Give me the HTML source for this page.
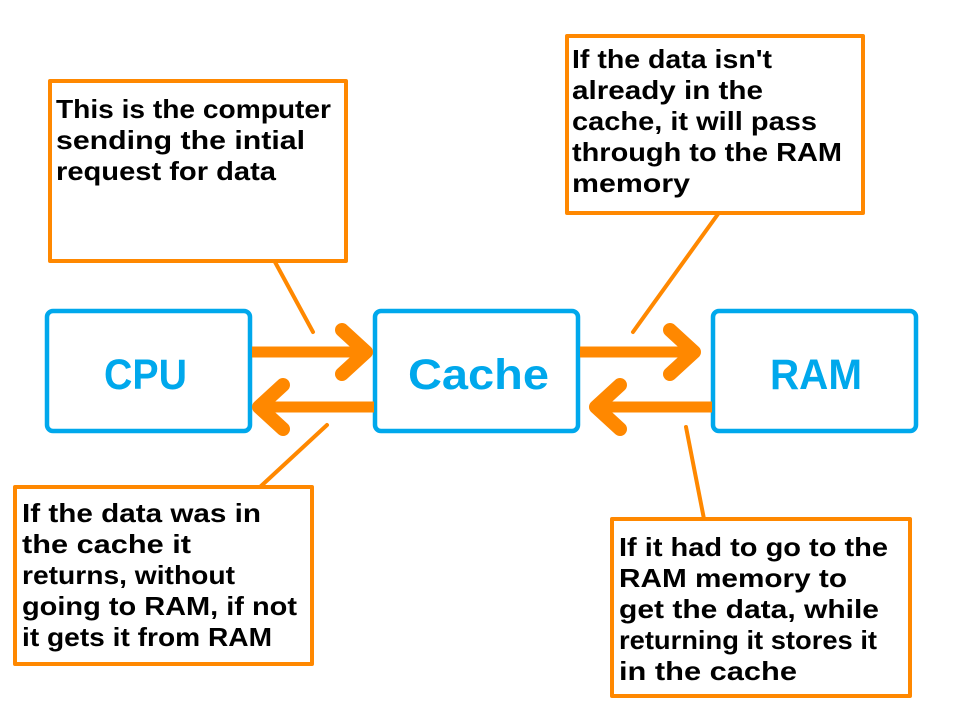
<!DOCTYPE html>
<html><head><meta charset="utf-8"><style>html,body{margin:0;padding:0;background:#fff}svg{display:block}</style></head>
<body>
<svg width="960" height="720" viewBox="0 0 960 720" xmlns="http://www.w3.org/2000/svg">
<rect width="960" height="720" fill="#fff"/>
<g fill="#fff" stroke="#00a8ec" stroke-width="4.5">
<rect x="47" y="311" width="203" height="120" rx="6"/>
<rect x="375" y="311" width="203" height="120" rx="6"/>
<rect x="713" y="311" width="203" height="120" rx="6"/>
</g>
<g font-family="Liberation Sans, sans-serif" font-weight="bold" font-size="43" fill="#00a8ec">
<text x="104" y="389" textLength="83" lengthAdjust="spacingAndGlyphs">CPU</text>
<text x="408" y="389" textLength="141" lengthAdjust="spacingAndGlyphs">Cache</text>
<text x="770" y="389" textLength="92" lengthAdjust="spacingAndGlyphs">RAM</text>
</g>
<g stroke="#ff8800" fill="none" stroke-linecap="round" stroke-linejoin="round">
<g stroke-width="11">
<line x1="252" y1="352" x2="362" y2="352" stroke-linecap="butt"/>
<polyline points="342,330 366,352 342,374" stroke-width="14"/>
<line x1="374" y1="407" x2="264" y2="407" stroke-linecap="butt"/>
<polyline points="283,385 259,407 283,429" stroke-width="14"/>
<line x1="580" y1="352" x2="690" y2="352" stroke-linecap="butt"/>
<polyline points="670,330 694,352 670,374" stroke-width="14"/>
<line x1="712" y1="407" x2="602" y2="407" stroke-linecap="butt"/>
<polyline points="620,385 596,407 620,429" stroke-width="14"/>
</g>
<g stroke-width="4">
<line x1="275" y1="262" x2="313" y2="332"/>
<line x1="718" y1="214" x2="633" y2="332"/>
<line x1="327" y1="425" x2="260" y2="487"/>
<line x1="686" y1="427" x2="704" y2="519"/>
</g>
<g stroke-width="4" fill="#fff">
<rect x="50" y="81" width="296" height="180"/>
<rect x="567" y="36" width="296" height="177"/>
<rect x="15" y="487" width="297" height="177"/>
<rect x="612" y="519" width="298" height="177"/>
</g>
</g>
<g font-family="Liberation Sans, sans-serif" font-weight="bold" font-size="26" fill="#000" lengthAdjust="spacingAndGlyphs">
<text x="56" y="118" textLength="275" lengthAdjust="spacingAndGlyphs">This is the computer</text>
<text x="56" y="149" textLength="249" lengthAdjust="spacingAndGlyphs">sending the intial</text>
<text x="56" y="180" textLength="220" lengthAdjust="spacingAndGlyphs">request for data</text>

<text x="572" y="68" textLength="200" lengthAdjust="spacingAndGlyphs">If the data isn't</text>
<text x="572" y="99" textLength="191" lengthAdjust="spacingAndGlyphs">already in the</text>
<text x="572" y="130" textLength="245" lengthAdjust="spacingAndGlyphs">cache, it will pass</text>
<text x="572" y="161" textLength="270" lengthAdjust="spacingAndGlyphs">through to the RAM</text>
<text x="572" y="192" textLength="118" lengthAdjust="spacingAndGlyphs">memory</text>

<text x="22" y="522" textLength="239" lengthAdjust="spacingAndGlyphs">If the data was in</text>
<text x="22" y="553" textLength="169" lengthAdjust="spacingAndGlyphs">the cache it</text>
<text x="22" y="584" textLength="213" lengthAdjust="spacingAndGlyphs">returns, without</text>
<text x="22" y="615" textLength="275" lengthAdjust="spacingAndGlyphs">going to RAM, if not</text>
<text x="22" y="646" textLength="250" lengthAdjust="spacingAndGlyphs">it gets it from RAM</text>

<text x="619" y="556" textLength="269" lengthAdjust="spacingAndGlyphs">If it had to go to the</text>
<text x="619" y="587" textLength="228" lengthAdjust="spacingAndGlyphs">RAM memory to</text>
<text x="619" y="618" textLength="260" lengthAdjust="spacingAndGlyphs">get the data, while</text>
<text x="619" y="649" textLength="258" lengthAdjust="spacingAndGlyphs">returning it stores it</text>
<text x="619" y="680" textLength="178" lengthAdjust="spacingAndGlyphs">in the cache</text>
</g>
</svg>
</body></html>
